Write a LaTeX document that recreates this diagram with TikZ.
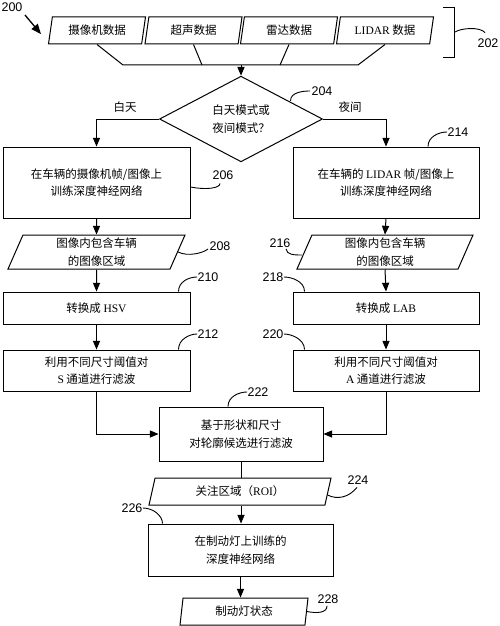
\documentclass[tikz,border=0pt]{standalone}
\usepackage{fontspec}
\setmainfont{Noto Sans CJK SC}
\newfontfamily\lat{Liberation Serif}
\newfontfamily\numfont{Liberation Sans}
\usetikzlibrary{shapes.geometric, arrows}

\begin{document}
\begin{tikzpicture}[x=1pt, y=-1pt, line width=1pt, >=triangle 45]
\tikzstyle{every node}+=[inner sep=0pt]
\tikzstyle{box}=[draw, rectangle, align=center, font=\fontsize{11.5}{17.5}\selectfont]
\tikzstyle{datain}=[draw, trapezium, trapezium stretches body, align=center, font=\fontsize{11.5}{17.5}\selectfont]
\tikzstyle{decide}=[draw, diamond, align=center, font=\fontsize{11.5}{17.5}\selectfont]
\tikzstyle{ref}=[font=\numfont\fontsize{12.5}{14}\selectfont]
\tikzstyle{lead}=[line width=0.9pt]
\useasboundingbox (0,0) rectangle (500,626);
\node [datain, trapezium left angle=70, trapezium right angle=110, minimum width=97pt, minimum height=27pt] (cam) at (97,30.5) {摄像机数据};
\node [datain, trapezium left angle=70, trapezium right angle=110, minimum width=97pt, minimum height=27pt] (ult) at (193.5,30.5) {超声数据};
\node [datain, trapezium left angle=70, trapezium right angle=110, minimum width=97pt, minimum height=27pt] (radar) at (289,30.5) {雷达数据};
\node [datain, trapezium left angle=70, trapezium right angle=110, minimum width=97pt, minimum height=27pt] (lidar) at (385,30.5) {{\lat LIDAR} 数据};
\coordinate (b1) at (123,65);
\coordinate (b2) at (202,65);
\coordinate (b3) at (280,65);
\coordinate (b4) at (358,65);
\coordinate (bm) at (241,65);
\draw (cam.south) -- (b1) -- (b4) -- (lidar.south);
\draw (ult.south) -- (b2);
\draw (radar.south) -- (b3);
\node [decide, minimum width=163pt, minimum height=62pt] (mode) at (241,119) {白天模式或\\夜间模式？};
\draw [->] (bm) -- (mode.north);
\node [font=\fontsize{11.5}{14}\selectfont] (dayl) at (125,107) {白天};
\node [font=\fontsize{11.5}{14}\selectfont] (nightl) at (350,107) {夜间};
\node [box, minimum width=187pt, minimum height=71pt] (day) at (96.5,182.5) {在车辆的摄像机帧/图像上\\训练深度神经网络};
\node [box, minimum width=186pt, minimum height=71pt] (night) at (386,182.5) {在车辆的 {\lat LIDAR} 帧/图像上\\训练深度神经网络};
\draw [->] (mode.west) -| (day.north);
\draw [->] (mode.east) -| (night.north);
\node [datain, trapezium left angle=62, trapezium right angle=118, minimum width=177pt, minimum height=34pt] (dayroi) at (96.5,252) {图像内包含车辆\\的图像区域};
\node [datain, trapezium left angle=62, trapezium right angle=118, minimum width=176pt, minimum height=34pt] (nightroi) at (385,252) {图像内包含车辆\\的图像区域};
\node [box, minimum width=187pt, minimum height=32pt] (hsv) at (96.5,308) {转换成 {\lat HSV}};
\node [box, minimum width=186pt, minimum height=32pt] (lab) at (386,308) {转换成 {\lat LAB}};
\node [box, minimum width=187pt, minimum height=41pt] (sfilt) at (96.5,370.5) {利用不同尺寸阈值对\\{\lat S} 通道进行滤波};
\node [box, minimum width=186pt, minimum height=41pt] (afilt) at (386,370.5) {利用不同尺寸阈值对\\{\lat A} 通道进行滤波};
\draw [->] (day.south) -- (dayroi.north);
\draw [->] (night.south) -- (nightroi.north);
\draw [->] (dayroi.south) -- (hsv.north);
\draw [->] (nightroi.south) -- (lab.north);
\draw [->] (hsv.south) -- (sfilt.north);
\draw [->] (lab.south) -- (afilt.north);
\node [box, minimum width=164pt, minimum height=54pt] (shape) at (241,434) {基于形状和尺寸\\对轮廓候选进行滤波};
\draw [->] (sfilt.south) |- (shape.west);
\draw [->] (afilt.south) |- (shape.east);
\node [datain, trapezium left angle=61, trapezium right angle=119, minimum width=182pt, minimum height=27pt] (roi) at (240,491.5) {关注区域（{\lat ROI}）};
\draw (shape.south) -- (shape.south |- roi.north);
\node [box, minimum width=185pt, minimum height=52pt] (dnn) at (240.5,550) {在制动灯上训练的\\深度神经网络};
\draw [->] (shape.south |- roi.south) -- (shape.south |- dnn.north);
\node [datain, trapezium left angle=74, trapezium right angle=106, minimum width=128pt, minimum height=27pt] (state) at (244,611.5) {制动灯状态};
\draw [->] (dnn.south) -- (dnn.south |- state.north);
\node [ref] (n200) at (12,7) {200};
\draw [->, line width=1.3pt] ([shift={(2,3)}]n200.south east) -- ([shift={(-9,3.5)}]cam.west);
\draw [lead] (443,7) -- (454,7) -- (454,57) -- (443,57);
\coordinate (brk) at (455,32);
\node [ref] (n202) at (488,43) {202};
\draw [lead] (brk) .. controls +(6,-4) and +(-5,-6) .. ([shift={(-3,-5.5)}]n202.north);
\node [ref] (n204) at (322,91) {204};
\draw [lead] ([shift={(8.5,3.5)}]mode.north east) .. controls +(0,-9) and +(-6,0) .. ([shift={(-1,0)}]n204.west);
\node [ref] (n206) at (223,175) {206};
\draw [lead] ([shift={(0,4.5)}]day.east) .. controls +(15,3) and +(0,5) .. ([shift={(-3,3.5)}]n206.south);
\node [ref] (n214) at (458,132) {214};
\draw [lead] ([shift={(42,0)}]night.north) .. controls +(0,-10) and +(-8,0) .. (n214.west);
\node [ref] (n208) at (220,246) {208};
\draw [lead] (dayroi.east) .. controls +(10,5) and +(-5,4) .. ([shift={(-1,3)}]n208.west);
\node [ref] (n216) at (280,243) {216};
\draw [lead] ([shift={(6,1)}]n216.south) .. controls +(1,6) and +(-8,0) .. ([shift={(-2,3)}]nightroi.west);
\node [ref] (n210) at (208,277) {210};
\draw [lead] ([shift={(-12,0)}]hsv.north east) .. controls +(0,-10) and +(-8,0) .. (n210.west);
\node [ref] (n218) at (273,277) {218};
\draw [lead] (n218.east) .. controls +(8,0) and +(0,-10) .. ([shift={(12,0)}]lab.north west);
\node [ref] (n212) at (208,334) {212};
\draw [lead] ([shift={(-12,0)}]sfilt.north east) .. controls +(0,-10) and +(-8,0) .. (n212.west);
\node [ref] (n220) at (273,334) {220};
\draw [lead] (n220.east) .. controls +(8,0) and +(0,-10) .. ([shift={(12,0)}]afilt.north west);
\node [ref] (n222) at (258,392) {222};
\draw [lead] ([shift={(-13,0)}]shape.north) .. controls +(0,-10) and +(-8,0) .. (n222.west);
\node [ref] (n224) at (358,480) {224};
\draw [lead] ([shift={(-1,3.5)}]roi.east) .. controls +(10,5) and +(-8,10) .. ([shift={(-1,2.5)}]n224.south);
\node [ref] (n226) at (132,508) {226};
\draw [lead] (n226.east) .. controls +(10,0) and +(0,-8) .. ([shift={(15,0)}]dnn.north west);
\node [ref] (n228) at (328,599) {228};
\draw [lead] (state.east) .. controls +(10,2) and +(0,7) .. ([shift={(-1,2)}]n228.south);
\end{tikzpicture}
\end{document}
